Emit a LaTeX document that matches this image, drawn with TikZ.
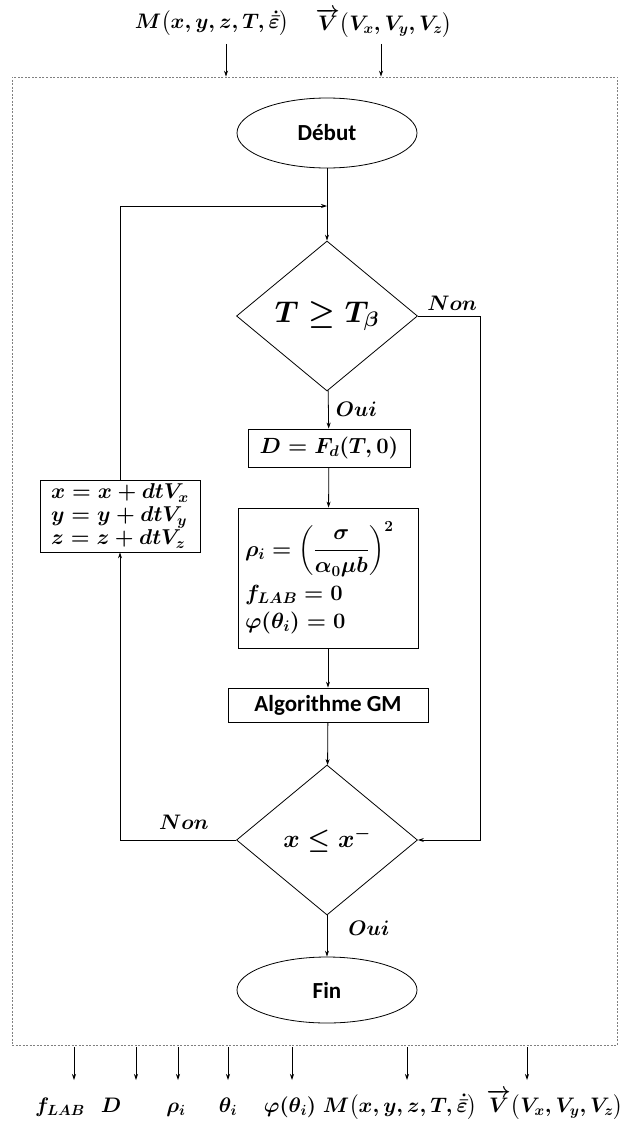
\RequirePackage{fix-cm}
\documentclass[tikz,border=0pt]{standalone}
\usepackage{amsmath}
\usepackage{fontspec}
\setmainfont{Carlito}
\usetikzlibrary{shapes.geometric,arrows.meta}
\begin{document}
\begin{tikzpicture}[x=1pt,y=-1pt,line width=0.8pt,
  arr/.style={-{Stealth[length=6pt,width=4pt]}},
  box/.style={draw,rectangle,inner sep=0pt},
  term/.style={draw,ellipse,minimum width=180pt,minimum height=70pt,inner sep=0pt,font=\fontsize{23}{27}\selectfont\bfseries},
  dec/.style={draw,diamond,minimum width=181pt,minimum height=150pt,inner sep=0pt},
  lab/.style={font=\boldmath\fontsize{21}{24}\selectfont,inner sep=0pt},
]
\useasboundingbox (0,0) rectangle (630,1124);
\node[draw=gray,dash pattern=on 2pt off 1.5pt,line width=0.6pt,minimum width=605pt,minimum height=968pt,inner sep=0pt] (frame) at (314.5,561) {};
% inputs
\node[lab] (inM) at (212,23) {$M\bigl(x,y,z,T,\dot{\bar{\varepsilon}}\bigr)$};
\node[lab] (inV) at (384,23) {$\overrightarrow{V}\bigl(V_x,V_y,V_z\bigr)$};
\coordinate (inMa) at (226,44);
\coordinate (inVa) at (381,44);
\draw[arr] (inMa) -- (inMa |- frame.north);
\draw[arr] (inVa) -- (inVa |- frame.north);
% flowchart
\node[term] (debut) at (327,133) {Début};
\node[dec,font=\boldmath\fontsize{30}{34}\selectfont] (d1) at (327,316) {$T\geq T_{\beta}$};
\node[box,minimum width=162pt,minimum height=38pt,font=\boldmath\fontsize{22}{26}\selectfont] (bD) at (329,448) {$D=F_{d}(T,0)$};
\node[box,minimum width=180pt,minimum height=140pt,text width=166pt,align=left,font=\boldmath\fontsize{22}{28}\selectfont] (brho) at (328,578)
  {$\rho_i=\left(\dfrac{\sigma}{\alpha_0\mu b}\right)^{2}$\\[7pt]$f_{LAB}=0$\\$\varphi(\theta_i)=0$};
\node[box,minimum width=200pt,minimum height=34pt,font=\fontsize{23}{27}\selectfont\bfseries] (alg) at (328,705) {Algorithme GM};
\node[dec,font=\boldmath\fontsize{25}{28}\selectfont] (d2) at (327,840) {$x\leq x^{-}$};
\node[term,minimum height=66pt] (fin) at (327,990) {Fin};
\node[box,minimum width=160pt,minimum height=72pt,align=left,font=\boldmath\fontsize{21.5}{23}\selectfont] (upd) at (120,516)
  {$x=x+dtV_x$\\$y=y+dtV_y$\\$z=z+dtV_z$};
\coordinate (jn) at (327,206);
\coordinate (rr) at (480,316);
% connectors
\draw[arr] (debut) -- (d1);
\draw[arr] (d1) -- node[lab,right=7pt,pos=0.5] {$Oui$} (bD);
\draw[arr] (bD) -- (brho);
\draw[arr] (brho) -- (alg);
\draw[arr] (alg) -- (d2);
\draw[arr] (d2) -- node[lab,right=21pt,pos=0.3] {$Oui$} (fin);
\draw[arr] (d1.east) -- node[lab,above=5pt,pos=0.55] {$Non$} (d1.east -| rr) |- (d2.east);
\draw[arr] (d2.west) -- node[lab,above=10pt,pos=0.45] {$Non$} (d2.west -| upd) -- (upd.south);
\draw[arr] (upd.north) |- (jn);
% outputs
\foreach \nm/\x in {o1/74,o2/136,o3/178,o4/228,o5/292,o6/407,o7/527}{
  \coordinate (\nm) at (\x,1080);
  \draw[arr] (\nm |- frame.south) ++(0,2) -- (\nm);
}
\node[lab,anchor=base] (l1) at (60,1112) {$f_{LAB}$};
\node[lab,anchor=base] (l2) at (111,1112) {$D$};
\node[lab,anchor=base] (l3) at (176,1112) {$\rho_i$};
\node[lab,anchor=base] (l4) at (228,1112) {$\theta_i$};
\node[lab,anchor=base] (l5) at (290,1112) {$\varphi(\theta_i)$};
\node[lab,anchor=base] (l6) at (400,1112) {$M\bigl(x,y,z,T,\dot{\bar{\varepsilon}}\bigr)$};
\node[lab,anchor=base] (l7) at (555,1112) {$\overrightarrow{V}\bigl(V_x,V_y,V_z\bigr)$};
\end{tikzpicture}
\end{document}
